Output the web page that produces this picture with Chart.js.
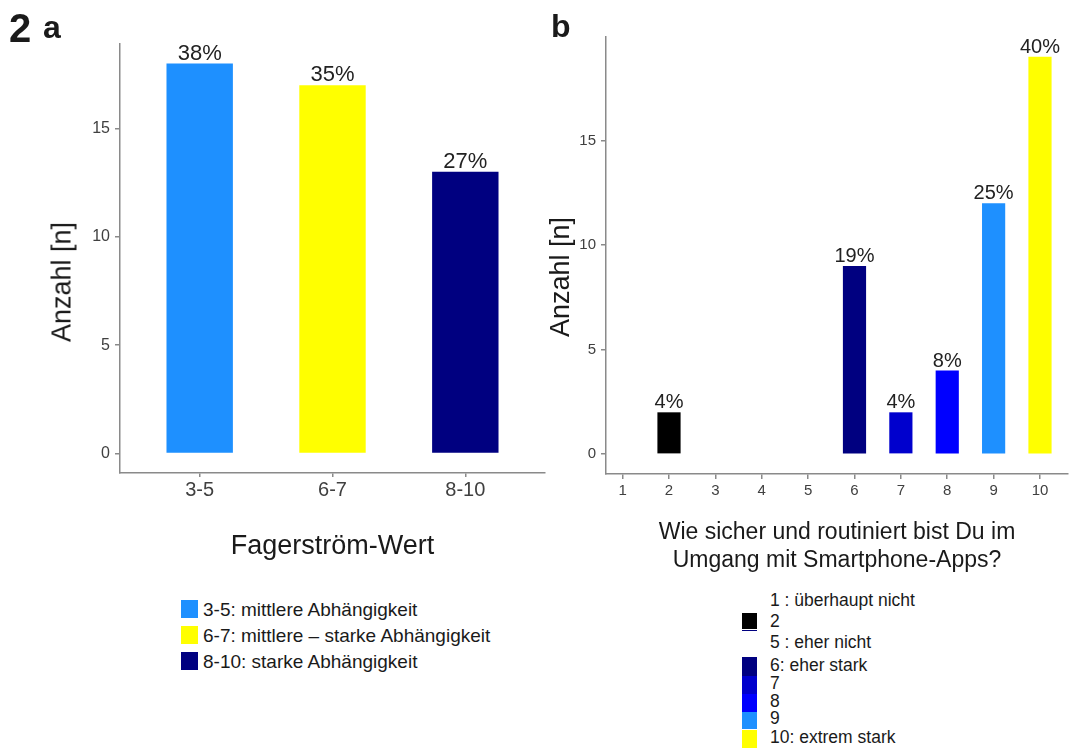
<!DOCTYPE html>
<html lang="de">
<head>
<meta charset="UTF-8">
<title>Fagerström-Wert / Smartphone-Apps</title>
<script src="https://cdn.jsdelivr.net/npm/chart.js@4.4.0/dist/chart.umd.min.js"></script>
<style>
  body { margin: 0; background: #fff; font-family: "Liberation Sans", Arial, sans-serif; }
  #wrap { position: relative; width: 1070px; height: 749px; overflow: hidden; }
  canvas { position: absolute; top: 0; }
  .t { position: absolute; color: #1a1a1a; white-space: nowrap; line-height: 1; }
  .ytitle { font-size: 27px; transform: translate(-50%, -50%) rotate(-90deg); }
  .sw { position: absolute; }
</style>
</head>
<body>
<div id="wrap">
  <canvas id="chartA" width="560" height="580" style="left:0"></canvas>
  <canvas id="chartB" width="530" height="580" style="left:540px"></canvas>

  <div class="t" style="left:9px; top:8px; font-size:40px; font-weight:bold">2</div>
  <div class="t" style="left:43px; top:11px; font-size:32px; font-weight:bold">a</div>
  <div class="t" style="left:551px; top:10px; font-size:32px; font-weight:bold">b</div>

  <div class="t ytitle" style="left:62px; top:282px">Anzahl [n]</div>
  <div class="t ytitle" style="left:560px; top:277px">Anzahl [n]</div>
</div>

<script>
  const FONT = '"Liberation Sans", Arial, sans-serif'

  // panel a
  const fagerLabels = ['3-5', '6-7', '8-10']
  const fagerCounts = [18, 17, 13]
  const fagerPercent = ['38%', '35%', '27%']
  const fagerColors = ['#1E90FF', '#FFFF00', '#000080']
  const fagerLegend = ['3-5: mittlere Abhängigkeit', '6-7: mittlere – starke Abhängigkeit', '8-10: starke Abhängigkeit']

  // panel b
  const appLabels = ['1', '2', '3', '4', '5', '6', '7', '8', '9', '10']
  const appCounts = [0, 2, 0, 0, 0, 9, 2, 4, 12, 19]
  const appPercent = ['', '4%', '', '', '', '19%', '4%', '8%', '25%', '40%']
  const appColors = ['#FFFFFF', '#000000', '#FFFFFF', '#FFFFFF', '#FFFFFF', '#000080', '#0000CD', '#0000FF', '#1E90FF', '#FFFF00']
  const appLegend = ['1 : überhaupt nicht', '2', '5 : eher nicht', '6: eher stark', '7', '8', '9', '10: extrem stark']
  const appLegendColors = [null, '#000000', null, '#000080', '#0000CD', '#0000FF', '#1E90FF', '#FFFF00']

  const yTicks = [0, 5, 10, 15]

  // prozent-beschriftung über den balken
  const pctLabels = {
    id: 'pctLabels',
    afterDatasetsDraw(chart, args, opts) {
      const ctx = chart.ctx
      const meta = chart.getDatasetMeta(0)
      ctx.save()
      ctx.font = opts.size + 'px ' + FONT
      ctx.fillStyle = '#222'
      ctx.textAlign = 'center'
      ctx.textBaseline = 'alphabetic'
      meta.data.forEach((bar, i) => {
        if (opts.texts[i]) ctx.fillText(opts.texts[i], bar.x, bar.y - 4)
      })
      ctx.restore()
    }
  }

  function axis(tl, pad, size) {
    return {
      offset: false,
      border: { display: true, color: '#8a8a8a', width: 1.5 },
      grid: { offset: false, drawOnChartArea: false, drawTicks: true, tickLength: tl, color: '#8a8a8a', lineWidth: 1.5 },
      ticks: { padding: pad, color: '#404040', autoSkip: false, maxRotation: 0, font: { family: FONT, size: size } }
    }
  }

  function makeChart(id, o) {
    const xAx = axis(o.xTick[0], o.xTick[1], o.xTick[2])
    const yAx = axis(o.yTick[0], o.yTick[1], o.yTick[2])
    xAx.ticks.callback = (v, i) => o.labels[i]
    new Chart(document.getElementById(id), {
      type: 'bar',
      data: {
        datasets: [{
          data: o.counts.map((v, i) => ({ x: i + 1, y: v })),
          backgroundColor: o.colors,
          borderWidth: 0,
          barPercentage: 0.5,
          categoryPercentage: 1
        }]
      },
      options: {
        responsive: false,
        animation: false,
        layout: { padding: o.padding },
        plugins: {
          legend: { display: false },
          tooltip: { enabled: false },
          pctLabels: { texts: o.percent, size: o.pctSize }
        },
        scales: {
          x: Object.assign(xAx, {
            type: 'linear', min: o.xRange[0], max: o.xRange[1],
            afterBuildTicks: s => { s.ticks = o.labels.map((l, i) => ({ value: i + 1 })) },
            afterFit: s => { s.height = o.xHeight },
            title: { display: true, text: o.xTitle, color: '#1a1a1a', padding: 0,
                     font: { family: FONT, size: o.xTitleSize, lineHeight: o.xTitleLh } }
          }),
          y: Object.assign(yAx, {
            type: 'linear', min: o.yRange[0], max: o.yRange[1],
            afterBuildTicks: s => { s.ticks = yTicks.map(v => ({ value: v })) },
            afterFit: s => { s.width = o.yWidth }
          })
        }
      },
      plugins: [pctLabels]
    })
  }

  makeChart('chartA', {
    labels: fagerLabels, counts: fagerCounts, percent: fagerPercent, colors: fagerColors,
    pctSize: 22, padding: { top: 44, right: 15, bottom: 17, left: 0 },
    xRange: [0.4, 3.6], yRange: [-0.9, 18.9],
    xTick: [4, 1, 20], yTick: [5, 5, 16],
    xHeight: 90, yWidth: 120,
    xTitle: 'Fagerström-Wert', xTitleSize: 27, xTitleLh: 1.2
  })

  makeChart('chartB', {
    labels: appLabels, counts: appCounts, percent: appPercent, colors: appColors,
    pctSize: 20, padding: { top: 37, right: 2, bottom: 5, left: 0 },
    xRange: [0.6415, 10.604], yRange: [-0.95, 19.95],
    xTick: [5, 3, 15], yTick: [5, 5, 15],
    xHeight: 101, yWidth: 66,
    xTitle: ['Wie sicher und routiniert bist Du im', 'Umgang mit Smartphone-Apps?'], xTitleSize: 23, xTitleLh: 28 / 23
  })

  // legenden
  const wrap = document.getElementById('wrap')
  function addText(txt, x, y, size) {
    const d = document.createElement('div')
    d.className = 't'
    d.style.cssText = `left:${x}px; top:${y}px; font-size:${size}px; transform:translateY(-50%)`
    d.textContent = txt
    wrap.appendChild(d)
  }
  function addBox(color, x, y, w, h) {
    const d = document.createElement('div')
    d.className = 'sw'
    d.style.cssText = `left:${x}px; top:${y}px; width:${w}px; height:${h}px; background:${color}`
    wrap.appendChild(d)
  }

  const legARows = [609, 635, 661]
  fagerLegend.forEach((txt, i) => {
    addBox(fagerColors[i], 181, legARows[i] - 9, 17, 18)
    addText(txt, 203, legARows[i], 19)
  })

  const legBRows = [601, 622, 643, 666, 684, 702, 719, 738]
  const legBBoxes = [null, [613, 16], null, [657, 19], [676, 18], [694, 18], [712, 17], [730, 18]]
  appLegend.forEach((txt, i) => {
    if (appLegendColors[i]) addBox(appLegendColors[i], 742, legBBoxes[i][0], 15, legBBoxes[i][1])
    addText(txt, 770, legBRows[i], 17.5)
  })
  addBox('#000080', 742, 629.5, 15, 1.5)
</script>
</body>
</html>
